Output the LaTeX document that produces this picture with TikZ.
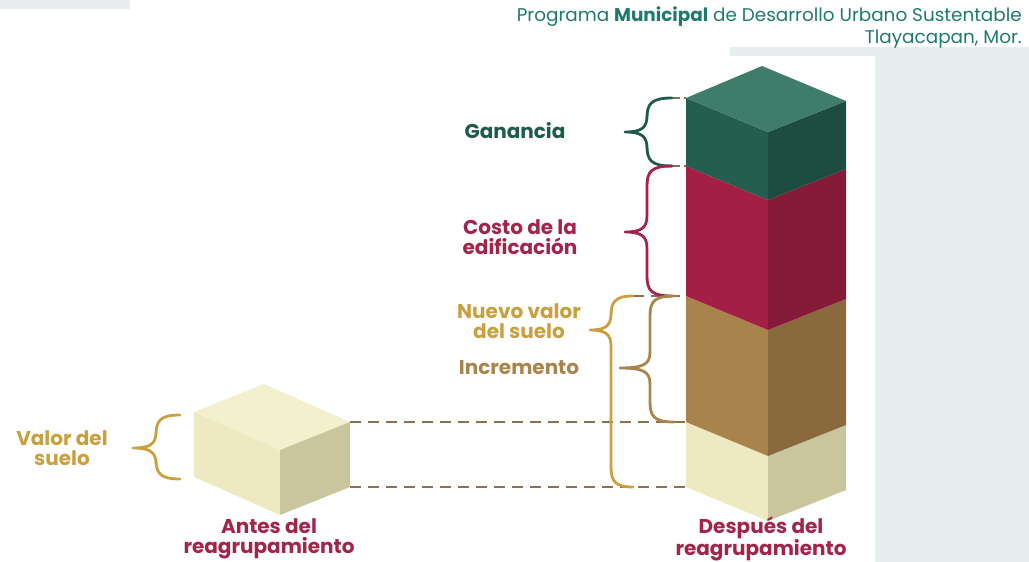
\documentclass[tikz,border=0pt]{standalone}
\usepackage{fontspec}
\setmainfont{Poppins}
\usetikzlibrary{positioning,calc}
\definecolor{panelgray}{HTML}{E7EEF0}
\definecolor{headteal}{HTML}{1F7A6E}
\definecolor{gainfront}{HTML}{245E4F}
\definecolor{gainside}{HTML}{1D4C40}
\definecolor{gaintop}{HTML}{3F7C6A}
\definecolor{costfront}{HTML}{A31F45}
\definecolor{costside}{HTML}{861A39}
\definecolor{incfront}{HTML}{A8834B}
\definecolor{incside}{HTML}{8A6A3C}
\definecolor{soilfront}{HTML}{EDEAC2}
\definecolor{soilside}{HTML}{C9C69E}
\definecolor{soiltop}{HTML}{F3F0CE}
\definecolor{gaintext}{HTML}{1F5B4C}
\definecolor{costtext}{HTML}{A3244B}
\definecolor{goldtext}{HTML}{C9A03E}
\definecolor{inctext}{HTML}{A9844C}
\definecolor{dashbrown}{HTML}{8C7150}

% curly brace opening to the right: colour, x end, x spine, x tip, y top, y tip, y bottom
\newcommand{\curlybrace}[7]{%
  \draw[bracestyle, #1] (#2,#5) .. controls ({#3+4},#5) and (#3,{#5+6}) .. (#3,{#5+20})
    -- (#3,{#6-16}) .. controls (#3,{#6-4}) and ({#3-6},#6) .. (#4,#6)
    .. controls ({#3-6},#6) and (#3,{#6+4}) .. (#3,{#6+16})
    -- (#3,{#7-20}) .. controls (#3,{#7-6}) and ({#3+4},#7) .. (#2,#7);}

\begin{document}
\begin{tikzpicture}[
    x=1pt, y=-1pt,
    bracestyle/.style={line width=2.8pt, line cap=round, line join=round},
    guide/.style={dashbrown, line width=2.2pt, dash pattern=on 11pt off 7pt},
    label/.style={align=center, font=\bfseries\fontsize{20}{20.5}\selectfont, inner sep=0pt},
    header/.style={anchor=east, text=headteal, font=\fontsize{18.4}{20}\selectfont, inner sep=0pt}
  ]
  \useasboundingbox (0,0) rectangle (1029,562);

  % panels
  \fill[panelgray] (0,0) rectangle (130,9);
  \fill[panelgray] (730,47) rectangle (1029,56);
  \fill[panelgray] (875,56) rectangle (1029,562);

  % header
  \node[header] (prog) at (1022,17)
    {Programa \textbf{Municipal} de Desarrollo Urbano Sustentable};
  \node[header] (place) at (1022,39) {Tlayacapan, Mor.};

  % small cube (before)
  \coordinate (cl) at (194,412);
  \coordinate (cf) at (280,450);
  \coordinate (cr) at (350,422);
  \fill[soiltop] (cl) -- (264,384) -- (cr) -- (cf) -- cycle;
  \fill[soilfront] (cl) -- (cf) -- (280,515) -- (194,477) -- cycle;
  \fill[soilside] (cf) -- (cr) -- (350,487) -- (280,515) -- cycle;
  \coordinate (crb) at (350,487);

  % tall column (after), bottom to top
  \foreach \ya/\yb/\cf/\cs in {422/487/soilfront/soilside, 296/422/incfront/incside,
                               166/296/costfront/costside, 98/166/gainfront/gainside}{
    \fill[\cf] (686,\ya) -- (768,{\ya+34}) -- (768,{\yb+34}) -- (686,\yb) -- cycle;
    \fill[\cs] (768,{\ya+34}) -- (846,{\ya+3}) -- (846,{\yb+3}) -- (768,{\yb+34}) -- cycle;
  }
  \fill[gaintop] (686,98) -- (762,66) -- (846,101) -- (768,132) -- cycle;
  \coordinate (t1) at (686,98);
  \coordinate (t2) at (686,166);
  \coordinate (t3) at (686,296);
  \coordinate (t4) at (686,422);
  \coordinate (t5) at (686,487);

  % guide lines
  \draw[guide] (cr) -- (t4);
  \draw[guide] (crb) -- (t5);
  \draw[guide] (633,296) -- (t3);
  \draw[guide, dash pattern=on 8pt off 4pt] (672,98) -- (t1);
  \draw[guide, dash pattern=on 8pt off 4pt] (672,166) -- (t2);

  % braces
  \curlybrace{gaintext}{672}{647}{625}{98}{132}{166}
  \curlybrace{costtext}{672}{647}{625}{166}{232}{296}
  \curlybrace{inctext}{674}{650}{620}{296}{368}{422}
  \curlybrace{goldtext}{633}{611}{590}{296}{330}{487}
  \curlybrace{goldtext}{180}{156}{133}{415}{448}{479}

  % labels
  \node[label, text=gaintext] (gain) at (515,131) {Ganancia};
  \node[label, text=costtext] (cost) at (520,237) {Costo de la\\edificación};
  \node[label, text=goldtext] (newval) at (519,321) {Nuevo valor\\del suelo};
  \node[label, text=inctext] (incr) at (519,368) {Incremento};
  \node[label, text=goldtext] (oldval) at (62,448) {Valor del\\suelo};
  \node[label, text=costtext] (before) at (269,539) {Antes del\\reagrupamiento};
  \node[label, text=costtext] (after) at (761,539) {Después del\\reagrupamiento};
\end{tikzpicture}
\end{document}
